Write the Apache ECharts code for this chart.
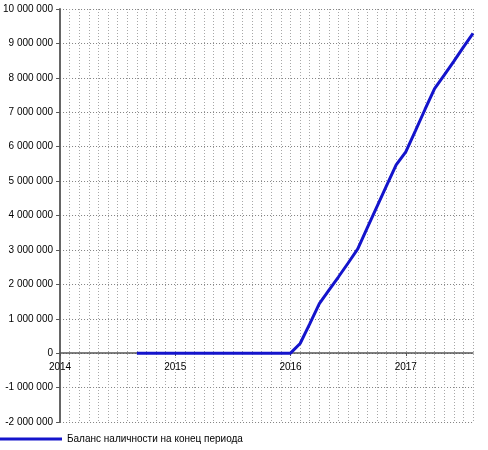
<!DOCTYPE html>
<html>
<head>
<meta charset="utf-8">
<script src="https://cdn.jsdelivr.net/npm/echarts@6/dist/echarts.min.js"></script>
<style>
html,body{margin:0;padding:0;background:#fff;}
#chart{width:488px;height:450px;}
</style>
</head>
<body>
<div id="chart"></div>
<script>
// Data (month-end balance)
const months = [
  '2014-09','2014-10','2014-11','2014-12',
  '2015-01','2015-02','2015-03','2015-04','2015-05','2015-06','2015-07','2015-08','2015-09','2015-10','2015-11','2015-12',
  '2016-01','2016-02','2016-03','2016-04','2016-05','2016-06','2016-07','2016-08','2016-09','2016-10','2016-11','2016-12',
  '2017-01','2017-02','2017-03','2017-04','2017-05','2017-06','2017-07','2017-08'
];
const balance = [
  0,0,0,0,
  0,0,0,0,0,0,0,0,0,0,0,0,
  0,280000,850000,1440000,1830000,2220000,2620000,3030000,3650000,4260000,4870000,5470000,
  5850000,6460000,7080000,7690000,8080000,8480000,8890000,9290000
];
const yearLabels = ['2014','2015','2016','2017'];
const seriesName = 'Баланс наличности на конец периода';
const axisStart = '2014-01';
const axisEnd = '2017-08';

function monthIndex(s){
  const [y,m] = s.split('-').map(Number);
  const [y0,m0] = axisStart.split('-').map(Number);
  return (y-y0)*12 + (m-m0);
}
const seriesData = months.map((m,i)=>[monthIndex(m), balance[i]]);
const yearTicks = yearLabels.map(y=>monthIndex(y+'-01'));
const xMax = monthIndex(axisEnd);

function fmt(v){
  const neg = v < 0;
  let s = String(Math.abs(v));
  s = s.replace(/\B(?=(\d{3})+(?!\d))/g, ' ');
  return (neg ? '-' : '') + s;
}

const font = 'Liberation Sans, Arial, sans-serif';
const chart = echarts.init(document.getElementById('chart'), null, {renderer:'canvas'});
chart.setOption({
  animation:false,
  backgroundColor:'#fff',
  grid:{left:57, right:15, top:9, bottom:28, containLabel:false},
  legend:{
    show:true, left:0, top:434, padding:0,
    itemWidth:62, itemHeight:3, icon:'rect',
    textStyle:{fontFamily:font, fontSize:10, color:'#000'},
    data:[{name:seriesName, icon:'rect'}]
  },
  xAxis:[{
    // monthly dotted grid
    type:'value', min:0, max:xMax, interval:1,
    axisLine:{show:false}, axisTick:{show:false}, axisLabel:{show:false},
    splitLine:{show:true, lineStyle:{color:'#a8a8a8', width:1, type:[1,2]}}
  },{
    // year ticks / labels, drawn along the zero line
    type:'value', min:0, max:xMax, position:'bottom', offset:-69,
    axisLine:{show:true, onZero:false, lineStyle:{color:'#555', width:1.5}},
    axisTick:{show:true, customValues:yearTicks, length:3, lineStyle:{color:'#555'}},
    axisLabel:{
      show:true, customValues:yearTicks, margin:9,
      fontFamily:font, fontSize:10, color:'#000',
      formatter:function(v){ const i = yearTicks.indexOf(v); return i>=0 ? yearLabels[i] : ''; }
    },
    splitLine:{show:false}
  }],
  yAxis:{
    type:'value', min:-2000000, max:10000000, interval:1000000,
    axisLine:{show:true, onZero:false, lineStyle:{color:'#666', width:2}},
    axisTick:{show:true, length:4, lineStyle:{color:'#555'}},
    axisLabel:{margin:7, fontFamily:font, fontSize:10, color:'#000', formatter:fmt},
    splitLine:{show:true, lineStyle:{color:'#808080', width:1, type:[1,2]}}
  },
  series:[{
    name:seriesName, type:'line', data:seriesData, xAxisIndex:1,
    showSymbol:false, symbol:'none',
    lineStyle:{color:'#1414cc', width:3},
    itemStyle:{color:'#1414cc'},
    z:5
  }]
});
</script>
</body>
</html>
